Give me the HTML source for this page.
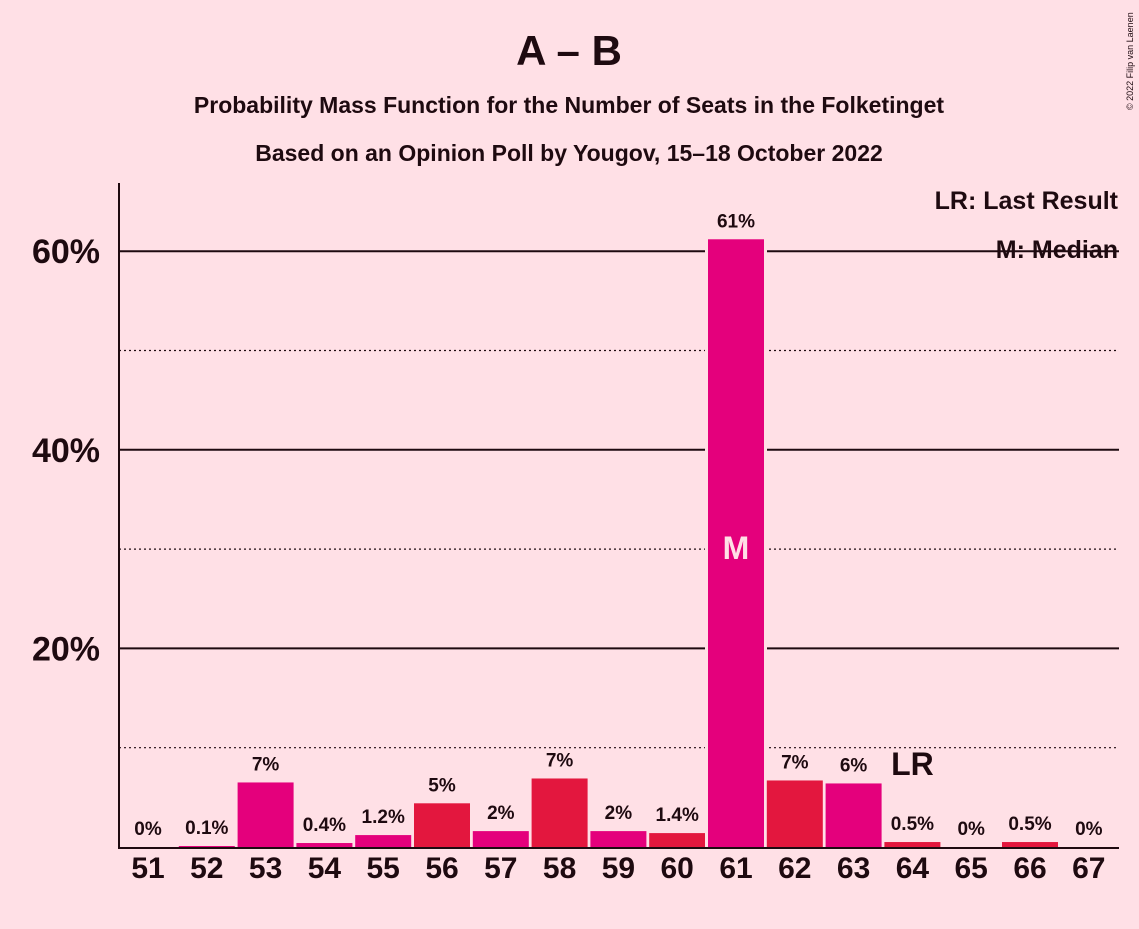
<!DOCTYPE html>
<html><head><meta charset="utf-8"><style>
body{margin:0;background:#FFE0E6;}
svg text{font-family:"Liberation Sans",sans-serif;font-weight:bold;fill:#1e0a10;}
</style></head><body>
<svg id="chart" width="1139" height="924" viewBox="0 0 1139 924" xmlns="http://www.w3.org/2000/svg">
<rect width="1139" height="924" fill="#FFE0E6"/>
<text x="569" y="65" font-size="42" text-anchor="middle">A – B</text>
<text x="569" y="113" font-size="23" text-anchor="middle">Probability Mass Function for the Number of Seats in the Folketinget</text>
<text x="569" y="161" font-size="23" text-anchor="middle">Based on an Opinion Poll by Yougov, 15–18 October 2022</text>
<text x="1133" y="110" font-size="9" transform="rotate(-90 1133 110)" style="font-weight:normal">© 2022 Filip van Laenen</text>
<g id="grid"></g>
<g id="bars"></g>
<line x1="119" y1="183" x2="119" y2="848" stroke="#1e0a10" stroke-width="2"/>
<line x1="118" y1="848" x2="1119" y2="848" stroke="#1e0a10" stroke-width="2"/>
<text x="1118" y="209" font-size="25" text-anchor="end">LR: Last Result</text>
<text x="1118" y="258" font-size="25" text-anchor="end">M: Median</text>
</svg>
<script>
const seats=[51,52,53,54,55,56,57,58,59,60,61,62,63,64,65,66,67];
const probs=[0,0.1,6.5,0.4,1.2,4.4,1.6,6.9,1.6,1.4,61.2,6.7,6.4,0.5,0,0.5,0];
const labels=["0%","0.1%","7%","0.4%","1.2%","5%","2%","7%","2%","1.4%","61%","7%","6%","0.5%","0%","0.5%","0%"];
const yTicks=[20,40,60];
const yMinor=[10,30,50];
const medianSeat=61, lastResultSeat=64;
const NS="http://www.w3.org/2000/svg";
const y=v=>847-v*9.93;
const x=s=>148+(s-51)*58.8;
const grid=document.getElementById('grid'), bars=document.getElementById('bars');
function mk(tag,attrs,parent){const e=document.createElementNS(NS,tag);for(const k in attrs)e.setAttribute(k,attrs[k]);parent.appendChild(e);return e;}
yTicks.forEach(t=>{
  const l=mk('line',{x1:119,x2:1119,y1:y(t),y2:y(t),stroke:'#1e0a10','stroke-width':2},grid);
  
  
  const tx=mk('text',{x:100,y:y(t)+12,'font-size':34,'text-anchor':'end'},grid);
  tx.textContent=t+'%';
  
  
});
yMinor.forEach(t=>{
  const l=mk('line',{x1:119,x2:1119,y1:y(t),y2:y(t),stroke:'#1e0a10','stroke-width':1.2,'stroke-dasharray':'2,3'},grid);
  
  
});
seats.forEach((s,i)=>{
  const col=(s%2===0&&s>=56)?'#E3173E':'#E4007C';
  const v=probs[i];
  if(v>0){
    if(s===medianSeat) mk('rect',{x:x(s)-31,y:y(v)-6,width:62,height:847-y(v)+6,fill:'#FFE0E6'},bars);
    const r=mk('rect',{x:x(s)-28,y:y(v),width:56,height:847-y(v),fill:col},bars);
    
    
  }
  const lt=mk('text',{x:x(s),y:y(v)-12,'font-size':19,'text-anchor':'middle'},bars);
  lt.textContent=labels[i];
  
  
  const xt=mk('text',{x:x(s),y:878,'font-size':30,'text-anchor':'middle'},bars);
  xt.textContent=s;
  
  
  if(s===medianSeat){
    const m=mk('text',{x:x(s),y:y(30)+10,'font-size':32,'text-anchor':'middle',style:'fill:#FFE0E6'},bars);
    m.textContent='M';
    
    
  }
  if(s===lastResultSeat){
    const m=mk('text',{x:x(s),y:775,'font-size':32,'text-anchor':'middle'},bars);
    m.textContent='LR';
    
    
  }
});
</script>
</body></html>
